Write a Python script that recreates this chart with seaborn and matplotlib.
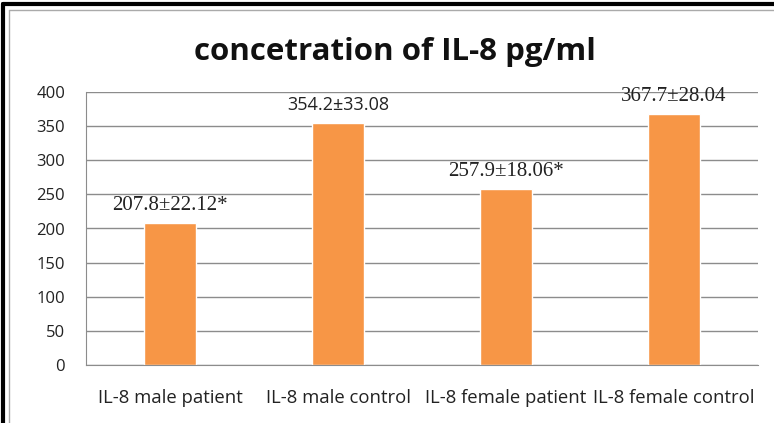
import numpy as np
import pandas as pd
import matplotlib
matplotlib.use("Agg")
import matplotlib.pyplot as plt
import seaborn as sns
from matplotlib.lines import Line2D

# data
groups = ["IL-8 male patient", "IL-8 male control", "IL-8 female patient", "IL-8 female control"]
means = [207.8, 354.2, 257.9, 367.7]
labels = ["207.8\u00b122.12*", "354.2\u00b133.08", "257.9\u00b118.06*", "367.7\u00b128.04"]
label_fonts = ["Liberation Serif", "Open Sans", "Liberation Serif", "Liberation Serif"]
yticks = [0, 50, 100, 150, 200, 250, 300, 350, 400]

df = pd.DataFrame({"group": groups, "mean": means})

sns.set_style("white")
plt.rcParams['font.family'] = ['Open Sans', 'DejaVu Sans']

fig = plt.figure(figsize=(7.74, 4.23), dpi=100)
ax = fig.add_axes([86 / 774, 1 - 365 / 423, (758 - 86) / 774, (365 - 92) / 423])

sns.barplot(data=df, x="group", y="mean", color="#F79646", saturation=1,
            width=0.31, ax=ax)

ax.set_ylim(0, 400)
ax.set_yticks(yticks)
ax.yaxis.grid(True, color="#8c8c8c", linewidth=1)
ax.set_axisbelow(True)
ax.set_xlabel("")
ax.set_ylabel("")
for s in ["top", "right"]:
    ax.spines[s].set_visible(False)
ax.spines["left"].set_color("#8c8c8c")
ax.spines["bottom"].set_color("#8c8c8c")
ax.tick_params(axis="both", length=0, colors="#222222")
ax.tick_params(axis="x", pad=17, labelsize=13.3)
ax.tick_params(axis="y", pad=15, labelsize=12)

# value labels above bars (serif, except the second one)
for i, (m, lab, fam) in enumerate(zip(means, labels, label_fonts)):
    ax.annotate(lab, (i, m), xytext=(0, 9.7), textcoords="offset points",
                ha="center", va="baseline", fontsize=15 if fam != "Open Sans" else 13,
                family=[fam, "DejaVu Sans"], color="#222222")

fig.text(395 / 774, 1 - 52 / 423, "concetration of IL-8 pg/ml", ha="center", va="center",
         fontsize=22.5, fontweight="bold", color="#111111")

# frame of the chart object
fig.add_artist(Line2D([3 / 774, 3 / 774], [0, 1 - 4 / 423], color="black", linewidth=3,
                      transform=fig.transFigure))
fig.add_artist(Line2D([3 / 774, 1], [1 - 4 / 423, 1 - 4 / 423], color="black", linewidth=3,
                      transform=fig.transFigure))
fig.add_artist(Line2D([9 / 774, 9 / 774], [0, 1 - 10 / 423], color="#aaaaaa", linewidth=1,
                      transform=fig.transFigure))
fig.add_artist(Line2D([9 / 774, 1], [1 - 10 / 423, 1 - 10 / 423], color="#aaaaaa", linewidth=1,
                      transform=fig.transFigure))

fig.savefig("out.png", dpi=100)
